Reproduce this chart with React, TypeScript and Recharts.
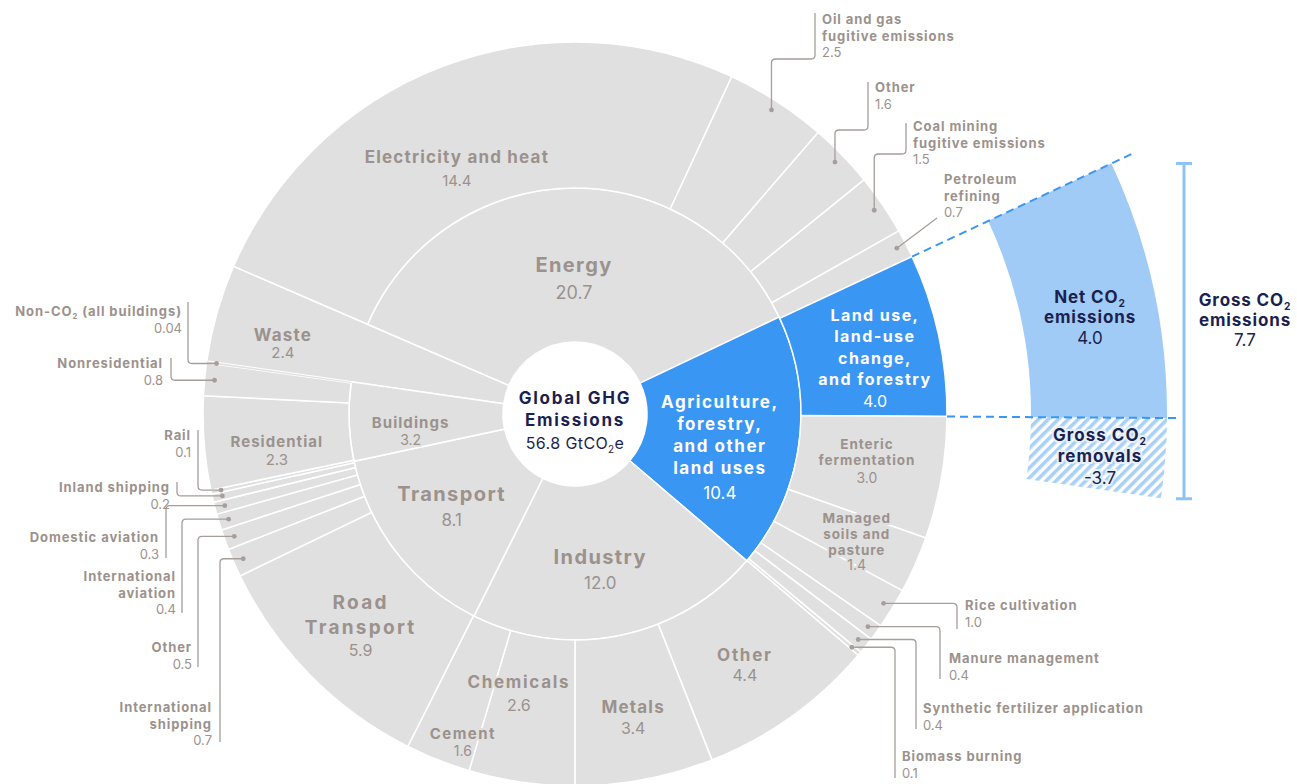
import React from "react";
import { PieChart, Pie, Cell } from "recharts";

// inner ring: sectors (clockwise from the top-left)
const sectorIds = ["energy", "afolu", "industry", "transport", "buildings", "waste"];
const sectorNames = [
  "Energy",
  "Agriculture, forestry, and other land uses",
  "Industry",
  "Transport",
  "Buildings",
  "Waste",
];
const sectorValues = [20.7, 10.4, 12.0, 8.1, 3.2, 2.4];

// outer ring: subsectors, in the same clockwise order
const subsectorNames = [
  "Electricity and heat",
  "Oil and gas fugitive emissions",
  "Other",
  "Coal mining fugitive emissions",
  "Petroleum refining",
  "Land use, land-use change, and forestry",
  "Enteric fermentation",
  "Managed soils and pasture",
  "Rice cultivation",
  "Manure management",
  "Synthetic fertilizer application",
  "Biomass burning",
  "Other",
  "Metals",
  "Chemicals",
  "Cement",
  "Road Transport",
  "International shipping",
  "Other",
  "International aviation",
  "Domestic aviation",
  "Inland shipping",
  "Rail",
  "Residential",
  "Nonresidential",
  "Non-CO₂ (all buildings)",
  "Waste",
];
const subsectorValues = [
  14.4, 2.5, 1.6, 1.5, 0.7,
  4.0, 3.0, 1.4, 1.0, 0.4, 0.4, 0.1,
  4.4, 3.4, 2.6, 1.6,
  5.9, 0.7, 0.5, 0.4, 0.3, 0.2, 0.1,
  2.3, 0.8, 0.04,
  2.4,
];
const subsectorParents = [
  "energy", "energy", "energy", "energy", "energy",
  "afolu", "afolu", "afolu", "afolu", "afolu", "afolu", "afolu",
  "industry", "industry", "industry", "industry",
  "transport", "transport", "transport", "transport", "transport", "transport", "transport",
  "buildings", "buildings", "buildings",
  "waste",
];

const totalLabel = "56.8";
const netCo2 = 4.0;
const grossRemovals = -3.7;
const grossEmissions = 7.7;

const sectorData = sectorNames.map((name, i) => ({ id: sectorIds[i], name, value: sectorValues[i] }));
const subsectorData = subsectorNames.map((name, i) => ({
  id: `${subsectorParents[i]}/${name}`,
  parent: subsectorParents[i],
  name,
  value: subsectorValues[i],
}));

const FONT = "Inter, 'Noto Sans', sans-serif";
const GRAY = "#e0e0e0";
const BLUE = "#3996f3";
const LIGHT_BLUE = "#9fcbf6";
const TEXT_GRAY = "#9b928d";
const NAVY = "#1c1f4f";
const LEADER = "#a59e9a";

const CX = 575;
const CY = 414;
const START = 156.6;
const END = START - 360;
const R_HOLE = 72;
const R_MID = 226;
const R_OUT = 372;
const R_NET_IN = 456;
const R_NET_OUT = 592;
const REMOVAL_SWEEP = 7.8;

const RAD = Math.PI / 180;
const polar = (cx: number, cy: number, r: number, a: number) => ({
  x: cx + r * Math.cos(a * RAD),
  y: cy - r * Math.sin(a * RAD),
});

const outerTotal = subsectorValues.reduce((a, b) => a + b, 0);
const landUseIdx = subsectorNames.indexOf("Land use, land-use change, and forestry");
const landUseEnd =
  START - (360 * subsectorValues.slice(0, landUseIdx + 1).reduce((a, b) => a + b, 0)) / outerTotal;

const fmt = (v: number) => (Math.abs(v) < 0.1 && v !== 0 ? v.toFixed(2) : v.toFixed(1));
const midOf = (p: any) => (p.midAngle ?? (p.startAngle + p.endAngle) / 2) as number;

// CO₂ with a real subscript
function rich(s: string, size: number) {
  const parts = s.split("₂");
  if (parts.length === 1) return s;
  return [
    <tspan key="a">{parts[0]}</tspan>,
    <tspan key="b" fontSize={size * 0.6} dy={size * 0.22}>2</tspan>,
    <tspan key="c" dy={-size * 0.22}>{parts[1]}</tspan>,
  ];
}

type Block = {
  lines: string[];
  size: number;
  vsize: number;
  lh?: number;
  gap: number;
  ls?: number;
  color?: string;
  halo?: string | null;
};

function TextBlock({ x, y, spec, value, anchor = "middle" }: { x: number; y: number; spec: Block; value: string; anchor?: string }) {
  const lh = spec.lh ?? 0;
  const halo = spec.halo === undefined ? GRAY : spec.halo;
  const haloProps = halo
    ? { stroke: halo, strokeWidth: 4, paintOrder: "stroke", strokeLinejoin: "round" as const }
    : {};
  const ls = (spec.ls ?? 0.07) * spec.size;
  return (
    <text x={x} y={y} textAnchor={anchor as any} fill={spec.color ?? TEXT_GRAY} fontFamily={FONT} {...(haloProps as any)}>
      {spec.lines.map((l, k) => (
        <tspan key={k} x={x} y={y + k * lh} fontWeight={700} fontSize={spec.size} letterSpacing={ls}>
          {rich(l, spec.size)}
        </tspan>
      ))}
      <tspan x={x} y={y + (spec.lines.length - 1) * lh + spec.gap} fontWeight={400} fontSize={spec.vsize} letterSpacing={0}>
        {value}
      </tspan>
    </text>
  );
}

// labels placed inside their segment: radius and angle nudge from the segment middle
const insideLayout: Record<string, Block & { r: number; da: number }> = {
  energy: { r: 142, da: -0.6, lines: ["Energy"], size: 20, vsize: 18, gap: 27 },
  afolu: { r: 145, da: 9.9, lines: ["Agriculture,", "forestry,", "and other", "land uses"], size: 17, vsize: 17, lh: 22, gap: 25, ls: 0.09, color: "#fff", halo: null },
  industry: { r: 152, da: -1.9, lines: ["Industry"], size: 20, vsize: 17, gap: 25 },
  transport: { r: 151, da: -2.5, lines: ["Transport"], size: 20, vsize: 17, gap: 25 },
  buildings: { r: 165, da: 2.9, lines: ["Buildings"], size: 15, vsize: 14, gap: 17 },
  waste: { r: 301, da: 1.8, lines: ["Waste"], size: 17, vsize: 15, gap: 17 },
  "energy/Electricity and heat": { r: 277, da: 4.4, lines: ["Electricity and heat"], size: 17, vsize: 15, gap: 23 },
  "afolu/Land use, land-use change, and forestry": { r: 314, da: 4.9, lines: ["Land use,", "land-use", "change,", "and forestry"], size: 16, vsize: 16, lh: 21.3, gap: 22, ls: 0.09, color: "#fff", halo: null },
  "afolu/Enteric fermentation": { r: 294, da: 3.1, lines: ["Enteric", "fermentation"], size: 13.5, vsize: 14, lh: 16, gap: 18 },
  "afolu/Managed soils and pasture": { r: 302, da: 2.8, lines: ["Managed", "soils and", "pasture"], size: 13.5, vsize: 14, lh: 16, gap: 15 },
  "industry/Other": { r: 300, da: -1.1, lines: ["Other"], size: 17, vsize: 16, gap: 20, ls: 0.1 },
  "industry/Metals": { r: 305, da: 0.2, lines: ["Metals"], size: 17, vsize: 16, gap: 21 },
  "industry/Chemicals": { r: 280, da: -3.3, lines: ["Chemicals"], size: 17, vsize: 16, gap: 23, ls: 0.1 },
  "industry/Cement": { r: 344, da: 2.6, lines: ["Cement"], size: 15, vsize: 14, gap: 17, ls: 0.1 },
  "transport/Road Transport": { r: 290, da: -2.2, lines: ["Road", "Transport"], size: 19, vsize: 16, lh: 25, gap: 22, ls: 0.12 },
  "buildings/Residential": { r: 300, da: 1.8, lines: ["Residential"], size: 15, vsize: 15, gap: 18 },
};

// labels outside the ring, with a leader line from a dot on the segment
type Callout = { x: number; y: number; anchor: "start" | "end"; lines: string[]; route: "up" | "h" | "diag"; lineX: number; end: number; elbow?: number };
const calloutLayout: Record<string, Callout> = {
  "energy/Oil and gas fugitive emissions": { x: 822, y: 24, anchor: "start", lines: ["Oil and gas", "fugitive emissions"], route: "up", elbow: 59, lineX: 815, end: 13 },
  "energy/Other": { x: 875, y: 92, anchor: "start", lines: ["Other"], route: "up", elbow: 130, lineX: 868, end: 82 },
  "energy/Coal mining fugitive emissions": { x: 913, y: 131, anchor: "start", lines: ["Coal mining", "fugitive emissions"], route: "up", elbow: 154, lineX: 906, end: 123 },
  "energy/Petroleum refining": { x: 944, y: 184, anchor: "start", lines: ["Petroleum", "refining"], route: "diag", lineX: 937, end: 218 },
  "afolu/Rice cultivation": { x: 965, y: 610, anchor: "start", lines: ["Rice cultivation"], route: "h", lineX: 957, end: 629 },
  "afolu/Manure management": { x: 949, y: 663, anchor: "start", lines: ["Manure management"], route: "h", lineX: 940, end: 679 },
  "afolu/Synthetic fertilizer application": { x: 923, y: 713, anchor: "start", lines: ["Synthetic fertilizer application"], route: "h", lineX: 916, end: 729 },
  "afolu/Biomass burning": { x: 902, y: 761, anchor: "start", lines: ["Biomass burning"], route: "h", lineX: 895, end: 778 },
  "buildings/Non-CO₂ (all buildings)": { x: 182, y: 316, anchor: "end", lines: ["Non-CO₂ (all buildings)"], route: "h", lineX: 188, end: 302 },
  "buildings/Nonresidential": { x: 163, y: 368, anchor: "end", lines: ["Nonresidential"], route: "h", lineX: 171, end: 358 },
  "transport/Rail": { x: 191, y: 440, anchor: "end", lines: ["Rail"], route: "h", lineX: 198, end: 430 },
  "transport/Inland shipping": { x: 170, y: 492, anchor: "end", lines: ["Inland shipping"], route: "h", lineX: 177, end: 482 },
  "transport/Domestic aviation": { x: 159, y: 542, anchor: "end", lines: ["Domestic aviation"], route: "h", lineX: 166, end: 558 },
  "transport/International aviation": { x: 176, y: 581, anchor: "end", lines: ["International", "aviation"], route: "h", lineX: 182, end: 613 },
  "transport/Other": { x: 192, y: 652, anchor: "end", lines: ["Other"], route: "h", lineX: 198, end: 667 },
  "transport/International shipping": { x: 212, y: 712, anchor: "end", lines: ["International", "shipping"], route: "h", lineX: 220, end: 742 },
};

function roundedPath(pts: number[][], rad = 4) {
  let d = `M${pts[0][0]},${pts[0][1]}`;
  for (let i = 1; i < pts.length - 1; i++) {
    const [px, py] = pts[i - 1];
    const [x, y] = pts[i];
    const [nx, ny] = pts[i + 1];
    const d1 = Math.hypot(x - px, y - py) || 1;
    const d2 = Math.hypot(nx - x, ny - y) || 1;
    const r1 = Math.min(rad, d1 / 2);
    const r2 = Math.min(rad, d2 / 2);
    d += ` L${x - ((x - px) / d1) * r1},${y - ((y - py) / d1) * r1}`;
    d += ` Q${x},${y} ${x + ((nx - x) / d2) * r2},${y + ((ny - y) / d2) * r2}`;
  }
  const last = pts[pts.length - 1];
  return d + ` L${last[0]},${last[1]}`;
}

function insideLabel(key: string, p: any, value: number) {
  const spec = insideLayout[key];
  if (!spec) return null;
  const pt = polar(p.cx, p.cy, spec.r, midOf(p) + spec.da);
  return <TextBlock x={pt.x} y={pt.y} spec={spec} value={fmt(value)} />;
}

const renderSectorLabel = (p: any) => {
  const s = sectorData[p.index];
  if (s.id === "waste") return null;
  return insideLabel(s.id, p, s.value);
};

const renderWasteLabel = (p: any) => {
  const s = sectorData[p.index];
  if (s.id !== "waste") return null;
  return insideLabel(s.id, p, s.value);
};

const renderSubsectorLabel = (p: any) => {
  const s = subsectorData[p.index];
  if (s.parent === "waste") return null;
  if (insideLayout[s.id]) return insideLabel(s.id, p, s.value);
  const c = calloutLayout[s.id];
  if (!c) return null;
  const dot = polar(p.cx, p.cy, R_OUT - 10, midOf(p));
  let pts: number[][];
  if (c.route === "up") pts = [[dot.x, dot.y], [dot.x, c.elbow!], [c.lineX, c.elbow!], [c.lineX, c.end]];
  else if (c.route === "h") pts = [[dot.x, dot.y], [c.lineX, dot.y], [c.lineX, c.end]];
  else pts = [[dot.x, dot.y], [c.lineX, c.end]];
  const spec: Block = { lines: c.lines, size: 13, vsize: 13, lh: 16.5, gap: 16.5, halo: null };
  return (
    <g>
      <path d={roundedPath(pts)} fill="none" stroke={LEADER} strokeWidth={1.3} />
      <circle cx={dot.x} cy={dot.y} r={2.4} fill={LEADER} />
      <TextBlock x={c.x} y={c.y} spec={spec} value={fmt(s.value)} anchor={c.anchor} />
    </g>
  );
};

const renderCenterLabel = (p: any) => {
  const ls = 1.7;
  return (
    <text x={p.cx} y={p.cy - 10} textAnchor="middle" fill={NAVY} fontFamily={FONT}>
      <tspan x={p.cx} y={p.cy - 10} fontWeight={700} fontSize={17} letterSpacing={ls}>Global GHG</tspan>
      <tspan x={p.cx} y={p.cy + 12} fontWeight={700} fontSize={17} letterSpacing={ls}>Emissions</tspan>
      <tspan x={p.cx} y={p.cy + 35} fontWeight={400} fontSize={16} letterSpacing={0.4}>
        {totalLabel} GtCO<tspan fontSize={10} dy={4}>2</tspan><tspan dy={-4}>e</tspan>
      </tspan>
    </text>
  );
};

const renderNetLabel = (p: any) => {
  const s = subsectorData[p.index];
  if (p.index !== landUseIdx) return null;
  const a0 = p.startAngle as number;
  const a1 = p.endAngle as number;
  const t0 = polar(p.cx, p.cy, R_OUT, a0);
  const t1 = polar(p.cx, p.cy, R_NET_OUT + 22, a0);
  const b0 = polar(p.cx, p.cy, R_OUT, a1);
  const b1 = polar(p.cx, p.cy, R_NET_OUT + 10, a1);
  const top = polar(p.cx, p.cy, R_NET_OUT, a0).y;
  const bottom = polar(p.cx, p.cy, R_NET_OUT + 2, a1 - REMOVAL_SWEEP).y;
  const bx = p.cx + 609;
  const netSpec: Block = { lines: ["Net CO₂", "emissions"], size: 17, vsize: 17, lh: 20, gap: 21, ls: 0.05, color: NAVY, halo: null };
  const grossSpec: Block = { lines: ["Gross CO₂", "emissions"], size: 17, vsize: 17, lh: 20, gap: 20, ls: 0.05, color: NAVY, halo: null };
  return (
    <g>
      <line x1={t0.x} y1={t0.y} x2={t1.x} y2={t1.y} stroke={BLUE} strokeWidth={2} strokeDasharray="8 5" />
      <line x1={b0.x} y1={b0.y} x2={b1.x} y2={b1.y} stroke={BLUE} strokeWidth={2} strokeDasharray="8 5" />
      <path d={`M${bx - 8},${top} H${bx + 8} M${bx},${top} V${bottom} M${bx - 8},${bottom} H${bx + 8}`} stroke="#8fc3f5" strokeWidth={3} fill="none" />
      <TextBlock x={p.cx + 515} y={p.cy - 111} spec={netSpec} value={fmt(netCo2 ?? s.value)} />
      <TextBlock x={p.cx + 670} y={p.cy - 108} spec={grossSpec} value={fmt(grossEmissions)} />
    </g>
  );
};

const renderRemovalLabel = (p: any) => {
  const spec: Block = { lines: ["Gross CO₂", "removals"], size: 17, vsize: 17, lh: 21, gap: 22, ls: 0.06, color: NAVY, halo: "#e6f1fd" };
  return <TextBlock x={p.cx + 525} y={p.cy + 27} spec={spec} value={fmt(grossRemovals)} />;
};

export default function App() {
  return (
    <div style={{ position: "absolute", left: 0, top: 0, background: "#fff" }}>
      <PieChart width={1297} height={784} margin={{ top: 0, right: 0, bottom: 0, left: 0 }}>
        <defs>
          <pattern id="hatch" patternUnits="userSpaceOnUse" width="7" height="7" patternTransform="rotate(45)">
            <rect width="7" height="7" fill="#ffffff" />
            <rect width="3.6" height="7" fill="#a9d1f8" />
          </pattern>
        </defs>
        {/* waste spans both rings */}
        <Pie
          data={sectorData}
          dataKey="value"
          cx={CX}
          cy={CY}
          innerRadius={R_HOLE}
          outerRadius={R_OUT}
          startAngle={START}
          endAngle={END}
          isAnimationActive={false}
          label={renderWasteLabel}
          labelLine={false}
        >
          {sectorData.map((d) => (
            <Cell key={d.id} fill={d.id === "waste" ? GRAY : "none"} stroke={d.id === "waste" ? "#fff" : "none"} strokeWidth={1.5} />
          ))}
        </Pie>
        <Pie
          data={sectorData}
          dataKey="value"
          cx={CX}
          cy={CY}
          innerRadius={R_HOLE}
          outerRadius={R_MID}
          startAngle={START}
          endAngle={END}
          isAnimationActive={false}
          label={renderSectorLabel}
          labelLine={false}
        >
          {sectorData.map((d) => (
            <Cell
              key={d.id}
              fill={d.id === "waste" ? "none" : d.id === "afolu" ? BLUE : GRAY}
              stroke={d.id === "waste" ? "none" : "#fff"}
              strokeWidth={1.5}
            />
          ))}
        </Pie>
        <Pie
          data={subsectorData}
          dataKey="value"
          cx={CX}
          cy={CY}
          innerRadius={R_MID}
          outerRadius={R_OUT}
          startAngle={START}
          endAngle={END}
          isAnimationActive={false}
          label={renderSubsectorLabel}
          labelLine={false}
        >
          {subsectorData.map((d, i) => (
            <Cell
              key={d.id + i}
              fill={d.parent === "waste" ? "none" : i === landUseIdx ? BLUE : GRAY}
              stroke={d.parent === "waste" || d.value < 0.1 ? "none" : "#fff"}
              strokeWidth={1.5}
            />
          ))}
        </Pie>
        <Pie
          data={[{ name: "Gross CO₂ removals", value: Math.abs(grossRemovals) }]}
          dataKey="value"
          cx={CX}
          cy={CY}
          innerRadius={R_NET_IN}
          outerRadius={R_NET_OUT}
          startAngle={landUseEnd}
          endAngle={landUseEnd - REMOVAL_SWEEP}
          isAnimationActive={false}
          label={renderRemovalLabel}
          labelLine={false}
        >
          <Cell fill="url(#hatch)" stroke="none" />
        </Pie>
        <Pie
          data={subsectorData}
          dataKey="value"
          cx={CX}
          cy={CY}
          innerRadius={R_NET_IN}
          outerRadius={R_NET_OUT}
          startAngle={START}
          endAngle={END}
          isAnimationActive={false}
          label={renderNetLabel}
          labelLine={false}
        >
          {subsectorData.map((d, i) => (
            <Cell key={d.id + i} fill={i === landUseIdx ? LIGHT_BLUE : "none"} stroke="none" />
          ))}
        </Pie>
        <Pie
          data={[{ name: "Global GHG Emissions", value: Number(totalLabel) }]}
          dataKey="value"
          cx={CX}
          cy={CY}
          innerRadius={0}
          outerRadius={R_HOLE}
          isAnimationActive={false}
          label={renderCenterLabel}
          labelLine={false}
        >
          <Cell fill="#fff" stroke="none" />
        </Pie>
      </PieChart>
    </div>
  );
}
